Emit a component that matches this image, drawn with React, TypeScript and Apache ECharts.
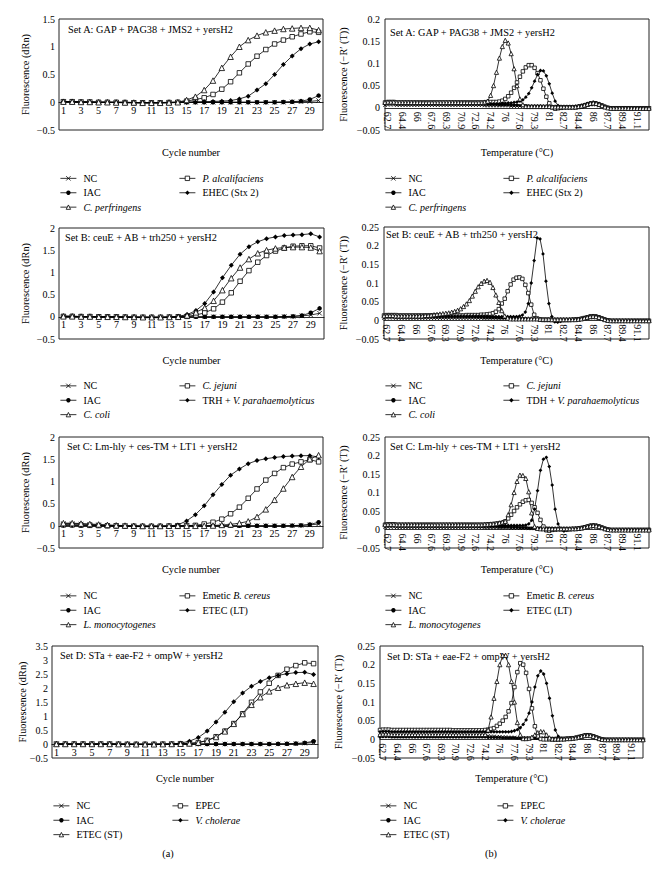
import React, { useEffect, useRef } from 'react';
import * as echarts from 'echarts';

// ---------- categories ----------
const CYCLES = ['1','2','3','4','5','6','7','8','9','10','11','12','13','14','15','16','17','18','19','20','21','22','23','24','25','26','27','28','29','30'];
const TEMPS = [
'62.4','62.7','63','63.4','63.7','64','64.4','64.7','65','65.4',
'65.7','66','66.3','66.7','67','67.3','67.6','68','68.3','68.6',
'69','69.3','69.6','70','70.3','70.6','70.9','71.3','71.6','71.9',
'72.3','72.6','72.9','73.3','73.6','73.9','74.2','74.6','74.9','75.3',
'75.6','76','76.3','76.6','77','77.3','77.6','77.9','78.3','78.6',
'79','79.3','79.6','80','80.3','80.6','81','81.3','81.7','82',
'82.3','82.7','83','83.3','83.7','84','84.4','84.7','85','85.4',
'85.7','86','86.4','86.7','87','87.4','87.7','88','88.4','88.7',
'89','89.4','89.7','90','90.4','90.7','91.1','91.4','91.7','92.1',
'92.4'];

// ---------- amplification curves (dRn) ----------
const A_NC    = [.01,.01,.005,.005,0,0,0,0,-.005,-.005,-.005,-.005,-.005,0,0,0,0,0,0,0,0,0,0,0,0,0,.005,.01,.015,.03];
const A_IAC   = [.01,.01,.005,0,0,0,-.005,-.01,-.01,-.015,-.015,-.015,-.01,-.005,0,0,0,0,0,0,0,0,0,0,0,.005,.01,.02,.05,.12];
const A_PALC  = [.01,.01,.005,.005,0,0,0,-.005,-.01,-.01,-.01,-.01,-.005,0,.02,.05,.08,.14,.235,.37,.53,.69,.83,.95,1.05,1.12,1.18,1.23,1.27,1.26];
const A_EHEC  = [.01,.01,.005,.005,0,0,0,0,-.005,-.005,-.005,-.005,0,0,0,.005,.01,.015,.02,.03,.06,.11,.22,.335,.5,.68,.835,.965,1.05,1.09];
const A_CPERF = [.01,.01,.005,.005,0,0,-.005,-.005,-.005,-.01,-.01,-.01,-.005,0,.04,.1,.22,.39,.62,.82,1.0,1.12,1.2,1.26,1.29,1.32,1.33,1.34,1.34,1.3];

const B_NC    = [.01,.01,.005,.005,0,0,0,-.005,-.005,-.005,-.01,-.01,-.005,0,0,0,0,0,0,0,0,0,0,0,0,.005,.01,.02,.04,.08];
const B_IAC   = [.01,.01,.005,0,0,0,-.005,-.01,-.015,-.02,-.02,-.02,-.015,-.01,0,0,0,0,0,0,0,0,0,0,0,.005,.01,.03,.09,.19];
const B_CJEJ  = [.01,.01,.005,.005,0,0,0,-.005,-.01,-.01,-.01,-.01,-.005,0,.01,.04,.09,.18,.33,.54,.8,1.04,1.23,1.38,1.48,1.55,1.59,1.6,1.6,1.55];
const B_TRH   = [.01,.01,.005,.005,0,0,0,-.005,-.005,-.01,-.01,-.01,-.005,.01,.05,.14,.3,.56,.88,1.16,1.41,1.58,1.69,1.76,1.8,1.83,1.84,1.85,1.87,1.8];
const B_CCOLI = [.01,.01,.005,.005,0,0,0,-.005,-.005,-.01,-.01,-.01,-.005,0,.03,.1,.2,.36,.6,.87,1.11,1.3,1.43,1.5,1.54,1.56,1.57,1.57,1.56,1.48];

const C_NC    = [.05,.05,.04,.03,.02,.01,.005,0,-.005,-.01,-.01,-.01,-.005,0,0,0,0,0,0,0,0,0,0,0,0,0,.005,.01,.02,.04];
const C_IAC   = [.01,.01,.005,0,0,0,-.005,-.01,-.015,-.02,-.02,-.02,-.015,-.01,0,0,0,0,0,0,0,0,0,0,0,0,.005,.01,.03,.08];
const C_BCER  = [.02,.02,.015,.01,.005,0,0,-.005,-.01,-.01,-.01,-.01,-.005,0,.005,.01,.04,.08,.15,.27,.42,.62,.83,1.03,1.18,1.31,1.39,1.44,1.49,1.44];
const C_ETLT  = [.02,.02,.015,.01,.005,0,0,-.005,-.005,-.01,-.01,-.01,-.005,.02,.11,.25,.45,.7,.93,1.14,1.28,1.4,1.47,1.51,1.54,1.56,1.57,1.58,1.58,1.55];
const C_LMONO = [.06,.06,.05,.04,.03,.02,.01,.005,0,-.005,-.005,-.005,0,0,0,0,0,.005,.02,.03,.06,.1,.2,.37,.585,.84,1.1,1.33,1.5,1.59];

const D_NC    = [0,0,0,0,0,0,0,0,0,-.005,-.005,-.005,0,0,0,0,0,0,0,0,0,0,0,0,0,0,.005,.01,.03,.05];
const D_IAC   = [0,0,0,0,0,0,0,-.005,-.01,-.01,-.015,-.015,-.01,-.005,0,0,0,0,0,0,0,0,0,0,0,.005,.01,.02,.04,.1];
const D_EPEC  = [0,0,0,0,0,0,0,-.005,-.01,-.01,-.01,-.01,-.005,0,.01,.02,.05,.13,.26,.46,.73,1.08,1.49,1.86,2.17,2.45,2.67,2.8,2.9,2.87];
const D_VCHOL = [0,0,0,0,0,0,0,-.005,-.005,-.01,-.01,-.01,-.005,0,.03,.1,.23,.46,.79,1.13,1.51,1.82,2.06,2.23,2.37,2.45,2.51,2.55,2.56,2.48];
const D_ETST  = [0,0,0,0,0,0,0,-.005,-.005,-.01,-.01,-.01,-.005,0,.01,.02,.05,.12,.25,.45,.72,1.07,1.4,1.67,1.88,2.01,2.1,2.15,2.19,2.15];

// ---------- melting curves (-R'(T)) ----------
const MA_NC = [
.006,.007,.007,.007,.006,.006,.006,.006,.006,.006,
.006,.006,.006,.006,.006,.006,.006,.006,.006,.006,
.006,.006,.006,.006,.006,.006,.006,.006,.006,.006,
.006,.006,.006,.006,.005,.005,.005,.005,.005,.005,
.005,.005,.005,.004,.004,.004,.004,.004,.004,.003,
.003,.003,.003,.003,.003,.003,.003,.002,.002,.002,
.002,.002,.002,.002,.002,.002,.002,.003,.004,.006,
.007,.008,.007,.005,.003,.001,.000,-.001,-.001,-.001,
-.001,-.001,-.001,-.001,-.001,-.001,-.001,-.001,-.001,-.001,
-.001];
const MA_IAC = [
.010,.011,.011,.011,.010,.010,.010,.010,.010,.010,
.010,.010,.010,.010,.010,.010,.010,.010,.010,.010,
.010,.010,.010,.010,.010,.010,.010,.010,.010,.010,
.010,.010,.009,.009,.009,.009,.008,.008,.008,.007,
.007,.007,.007,.006,.006,.006,.005,.005,.005,.004,
.004,.004,.004,.004,.003,.003,.003,.003,.003,.003,
.003,.003,.003,.003,.003,.004,.005,.006,.008,.010,
.012,.013,.012,.010,.007,.004,.001,.000,-.001,-.001,
-.001,-.001,-.001,-.001,-.001,-.001,-.001,-.001,-.001,-.001,
-.001];
const MA_PALC = [
.012,.013,.013,.013,.012,.012,.012,.012,.012,.012,
.012,.012,.012,.012,.012,.012,.012,.012,.012,.012,
.012,.012,.012,.012,.012,.012,.012,.012,.012,.012,
.012,.012,.012,.012,.012,.013,.013,.013,.013,.014,
.016,.020,.026,.034,.045,.057,.070,.082,.091,.096,
.096,.090,.078,.062,.043,.025,.010,.001,-.002,-.001,
.000,.001,.001,.001,.001,.001,.002,.003,.005,.007,
.009,.010,.009,.007,.005,.002,.000,-.001,-.001,-.001,
-.001,-.001,-.001,-.001,-.001,-.001,-.001,-.001,-.001,-.001,
-.001];
const MA_EHEC = [
.009,.010,.010,.010,.009,.009,.009,.009,.009,.009,
.009,.009,.009,.009,.009,.009,.009,.009,.009,.009,
.009,.009,.009,.009,.009,.009,.009,.009,.009,.009,
.009,.009,.009,.009,.009,.009,.009,.009,.009,.009,
.010,.010,.011,.011,.012,.013,.015,.018,.024,.032,
.045,.060,.075,.084,.083,.072,.054,.033,.015,.005,
.002,.002,.002,.002,.002,.002,.003,.004,.006,.008,
.010,.011,.010,.008,.005,.002,.000,-.001,-.001,-.001,
-.001,-.001,-.001,-.001,-.001,-.001,-.001,-.001,-.001,-.001,
-.001];
const MA_CPERF = [
.012,.013,.013,.013,.012,.012,.012,.012,.012,.012,
.012,.012,.012,.012,.012,.012,.012,.012,.012,.012,
.012,.012,.012,.012,.012,.012,.012,.012,.012,.012,
.012,.012,.012,.012,.013,.015,.028,.050,.080,.112,
.138,.152,.146,.122,.088,.050,.020,.007,.003,.003,
.003,.003,.003,.003,.003,.003,.003,.002,.002,.002,
.002,.002,.002,.002,.002,.002,.003,.004,.006,.008,
.010,.011,.010,.008,.005,.002,.000,-.001,-.001,-.001,
-.001,-.001,-.001,-.001,-.001,-.001,-.001,-.001,-.001,-.001,
-.001];

const MB_NC = [
.006,.007,.007,.007,.006,.006,.006,.006,.006,.006,
.006,.006,.006,.006,.006,.006,.006,.006,.006,.006,
.006,.006,.006,.006,.006,.006,.006,.006,.006,.006,
.006,.006,.006,.006,.005,.005,.005,.005,.005,.005,
.005,.005,.005,.004,.004,.004,.004,.004,.004,.003,
.003,.003,.003,.003,.003,.003,.003,.002,.002,.002,
.002,.002,.002,.002,.002,.002,.002,.003,.004,.006,
.007,.008,.007,.005,.003,.001,.000,-.001,-.001,-.001,
-.001,-.001,-.001,-.001,-.001,-.001,-.001,-.001,-.001,-.001,
-.001];
const MB_IAC = [
.010,.011,.011,.011,.010,.010,.010,.010,.010,.010,
.010,.010,.010,.010,.010,.010,.010,.010,.010,.010,
.010,.010,.010,.010,.010,.010,.010,.010,.010,.010,
.010,.010,.009,.009,.009,.009,.008,.008,.008,.007,
.007,.007,.007,.006,.006,.006,.005,.005,.005,.004,
.004,.004,.004,.004,.003,.003,.003,.003,.003,.003,
.003,.003,.003,.003,.003,.004,.005,.006,.008,.010,
.012,.013,.012,.010,.007,.004,.001,.000,-.001,-.001,
-.001,-.001,-.001,-.001,-.001,-.001,-.001,-.001,-.001,-.001,
-.001];
const MB_CJEJ = [
.013,.014,.014,.014,.014,.013,.013,.013,.013,.013,
.013,.013,.013,.013,.013,.013,.013,.013,.013,.013,
.013,.013,.013,.013,.013,.013,.013,.013,.014,.014,
.014,.014,.014,.015,.015,.016,.017,.019,.023,.030,
.045,.058,.078,.096,.109,.114,.115,.111,.095,.073,
.042,.015,.005,.002,.001,.001,.001,.001,.001,.001,
.001,.001,.001,.001,.002,.002,.003,.004,.006,.008,
.010,.011,.010,.008,.005,.002,.000,-.001,-.001,-.001,
-.001,-.001,-.001,-.001,-.001,-.001,-.001,-.001,-.001,-.001,
-.001];
const MB_TDH = [
.011,.012,.012,.012,.011,.011,.011,.011,.011,.011,
.011,.011,.011,.011,.011,.011,.011,.011,.011,.011,
.011,.011,.011,.011,.011,.011,.011,.011,.011,.011,
.011,.011,.011,.011,.011,.011,.010,.010,.010,.010,
.010,.010,.010,.010,.010,.010,.011,.014,.022,.045,
.100,.160,.221,.218,.178,.105,.045,.010,-.004,-.005,
-.003,-.001,.000,.001,.001,.002,.003,.004,.006,.008,
.010,.011,.010,.008,.005,.002,.000,-.001,-.001,-.001,
-.001,-.001,-.001,-.001,-.001,-.001,-.001,-.001,-.001,-.001,
-.001];
const MB_CCOLI = [
.012,.013,.013,.013,.012,.012,.012,.012,.012,.012,
.012,.012,.012,.012,.013,.013,.014,.015,.016,.017,
.018,.019,.020,.022,.024,.027,.031,.037,.044,.053,
.065,.078,.090,.099,.105,.107,.102,.088,.068,.048,
.026,.012,.006,.004,.004,.004,.004,.004,.004,.004,
.004,.004,.004,.003,.003,.003,.003,.002,.002,.002,
.002,.002,.002,.002,.002,.002,.003,.004,.006,.008,
.010,.011,.010,.008,.005,.002,.000,-.001,-.001,-.001,
-.001,-.001,-.001,-.001,-.001,-.001,-.001,-.001,-.001,-.001,
-.001];

const MC_NC = [
.006,.007,.007,.007,.006,.006,.006,.006,.006,.006,
.006,.006,.006,.006,.006,.006,.006,.006,.006,.006,
.006,.006,.006,.006,.006,.006,.006,.006,.006,.006,
.006,.006,.006,.006,.005,.005,.005,.005,.005,.005,
.005,.005,.005,.004,.004,.004,.004,.004,.004,.003,
.003,.003,.003,.003,.003,.003,.003,.002,.002,.002,
.002,.002,.002,.002,.002,.002,.002,.003,.004,.006,
.007,.008,.007,.005,.003,.001,.000,-.001,-.001,-.001,
-.001,-.001,-.001,-.001,-.001,-.001,-.001,-.001,-.001,-.001,
-.001];
const MC_IAC = [
.010,.011,.011,.011,.010,.010,.010,.010,.010,.010,
.010,.010,.010,.010,.010,.010,.010,.010,.010,.010,
.010,.010,.010,.010,.010,.010,.010,.010,.010,.010,
.010,.010,.009,.009,.009,.009,.008,.008,.008,.007,
.007,.007,.007,.006,.006,.006,.005,.005,.005,.004,
.004,.004,.004,.004,.003,.003,.003,.003,.003,.003,
.003,.003,.003,.003,.003,.004,.005,.006,.008,.010,
.012,.013,.012,.010,.007,.004,.001,.000,-.001,-.001,
-.001,-.001,-.001,-.001,-.001,-.001,-.001,-.001,-.001,-.001,
-.001];
const MC_BCER = [
.013,.014,.014,.014,.013,.013,.013,.013,.013,.013,
.013,.013,.013,.013,.013,.013,.013,.013,.013,.013,
.013,.013,.013,.013,.013,.013,.013,.013,.013,.013,
.013,.013,.013,.013,.013,.014,.014,.015,.016,.017,
.018,.022,.030,.040,.050,.060,.068,.075,.079,.080,
.072,.060,.045,.026,.008,-.002,-.003,-.001,.000,.001,
.001,.001,.001,.001,.002,.002,.003,.004,.006,.008,
.010,.011,.010,.008,.005,.002,.000,-.001,-.001,-.001,
-.001,-.001,-.001,-.001,-.001,-.001,-.001,-.001,-.001,-.001,
-.001];
const MC_LMONO = [
.013,.014,.014,.014,.013,.013,.013,.013,.013,.013,
.013,.013,.013,.013,.013,.013,.013,.013,.013,.013,
.013,.013,.013,.013,.013,.013,.013,.013,.013,.013,
.013,.013,.013,.013,.014,.014,.015,.015,.016,.018,
.020,.022,.040,.067,.100,.130,.147,.146,.138,.102,
.045,.008,.003,.002,.002,.002,.002,.002,.002,.002,
.002,.002,.002,.002,.002,.002,.003,.004,.006,.008,
.010,.011,.010,.008,.005,.002,.000,-.001,-.001,-.001,
-.001,-.001,-.001,-.001,-.001,-.001,-.001,-.001,-.001,-.001,
-.001];
const MC_ETLT = [
.011,.012,.012,.012,.011,.011,.011,.011,.011,.011,
.011,.011,.011,.011,.011,.011,.011,.011,.011,.011,
.011,.011,.011,.011,.011,.011,.011,.011,.011,.011,
.011,.011,.011,.011,.011,.011,.011,.011,.011,.011,
.011,.011,.011,.011,.011,.011,.011,.011,.012,.015,
.025,.055,.105,.160,.190,.195,.170,.120,.055,.015,
.000,-.004,-.002,.000,.001,.002,.003,.004,.006,.008,
.010,.011,.010,.008,.005,.002,.000,-.001,-.001,-.001,
-.001,-.001,-.001,-.001,-.001,-.001,-.001,-.001,-.001,-.001,
-.001];

const MD_NC = [
.010,.011,.011,.011,.010,.010,.010,.010,.010,.010,
.010,.010,.010,.010,.010,.010,.010,.010,.010,.010,
.010,.010,.010,.010,.010,.010,.010,.010,.010,.010,
.010,.010,.010,.010,.010,.010,.009,.009,.008,.008,
.007,.007,.006,.006,.005,.005,.005,.004,.004,.004,
.004,.003,.003,.003,.003,.003,.003,.002,.002,.002,
.002,.002,.002,.002,.002,.002,.003,.004,.006,.008,
.010,.011,.010,.008,.005,.002,.000,-.001,-.001,-.001,
-.001,-.001,-.001,-.001,-.001,-.001,-.001,-.001,-.001,-.001,
-.001];
const MD_IAC = [
.006,.007,.007,.007,.006,.006,.006,.006,.006,.006,
.006,.006,.006,.006,.006,.006,.006,.006,.006,.006,
.006,.006,.006,.006,.006,.006,.006,.006,.006,.006,
.006,.006,.006,.006,.006,.006,.006,.005,.005,.005,
.005,.005,.004,.004,.004,.004,.004,.003,.003,.003,
.003,.003,.003,.003,.003,.003,.003,.003,.003,.003,
.003,.003,.003,.003,.003,.004,.005,.006,.008,.010,
.012,.013,.012,.010,.007,.004,.001,.000,-.001,-.001,
-.001,-.001,-.001,-.001,-.001,-.001,-.001,-.001,-.001,-.001,
-.001];
const MD_EPEC = [
.025,.026,.026,.026,.025,.025,.025,.025,.025,.025,
.025,.025,.025,.025,.025,.025,.025,.025,.025,.025,
.025,.025,.025,.025,.025,.024,.024,.024,.024,.024,
.024,.024,.024,.024,.024,.024,.025,.026,.028,.030,
.036,.042,.050,.060,.075,.097,.140,.180,.204,.200,
.178,.135,.083,.035,.008,.001,.000,.000,.000,.000,
.000,.000,.001,.001,.002,.002,.003,.004,.006,.008,
.010,.011,.010,.008,.005,.002,.000,-.001,-.001,-.001,
-.001,-.001,-.001,-.001,-.001,-.001,-.001,-.001,-.001,-.001,
-.001];
const MD_VCHOL = [
.020,.021,.021,.021,.020,.020,.020,.020,.020,.020,
.020,.020,.020,.020,.020,.020,.020,.020,.020,.020,
.020,.020,.020,.020,.020,.020,.020,.020,.020,.020,
.020,.020,.020,.020,.020,.020,.020,.020,.020,.020,
.020,.020,.020,.020,.020,.021,.023,.026,.031,.040,
.052,.070,.100,.140,.170,.183,.175,.150,.110,.063,
.025,.008,.002,.001,.001,.002,.003,.004,.006,.008,
.010,.011,.010,.008,.005,.002,.000,-.001,-.001,-.001,
-.001,-.001,-.001,-.001,-.001,-.001,-.001,-.001,-.001,-.001,
-.001];
const MD_ETST = [
.013,.014,.014,.014,.013,.013,.013,.013,.013,.013,
.013,.013,.013,.013,.013,.013,.013,.013,.013,.013,
.013,.013,.013,.013,.013,.013,.013,.013,.013,.013,
.013,.013,.013,.013,.013,.013,.013,.025,.060,.110,
.155,.200,.225,.225,.200,.155,.100,.045,.012,.002,
.002,.003,.006,.012,.018,.021,.020,.012,.004,.001,
.001,.001,.001,.001,.002,.002,.003,.004,.006,.008,
.010,.011,.010,.008,.005,.002,.000,-.001,-.001,-.001,
-.001,-.001,-.001,-.001,-.001,-.001,-.001,-.001,-.001,-.001,
-.001];

// ---------- texts ----------
const SET_TITLES = [
  'Set A: GAP + PAG38 + JMS2 + yersH2',
  'Set B: ceuE + AB + trh250 + yersH2',
  'Set C: Lm-hly + ces-TM + LT1 + yersH2',
  'Set D: STa + eae-F2 + ompW + yersH2',
];
const ITALIC: Record<string, [string, string]> = {
  'P. alcalifaciens': ['', 'P. alcalifaciens'],
  'C. perfringens': ['', 'C. perfringens'],
  'C. jejuni': ['', 'C. jejuni'],
  'C. coli': ['', 'C. coli'],
  'TRH + V. parahaemolyticus': ['TRH + ', 'V. parahaemolyticus'],
  'TDH + V. parahaemolyticus': ['TDH + ', 'V. parahaemolyticus'],
  'L. monocytogenes': ['', 'L. monocytogenes'],
  'Emetic B. cereus': ['Emetic ', 'B. cereus'],
  'V. cholerae': ['', 'V. cholerae'],
};

type Mark = 'cross' | 'dot' | 'square' | 'diamond' | 'tri';
type S = { name: string; data: number[]; mark: Mark };

const PANEL_SERIES: S[][] = [
  [ { name: 'NC', data: A_NC, mark: 'cross' }, { name: 'IAC', data: A_IAC, mark: 'dot' },
    { name: 'P. alcalifaciens', data: A_PALC, mark: 'square' }, { name: 'EHEC (Stx 2)', data: A_EHEC, mark: 'diamond' },
    { name: 'C. perfringens', data: A_CPERF, mark: 'tri' } ],
  [ { name: 'NC', data: MA_NC, mark: 'cross' }, { name: 'IAC', data: MA_IAC, mark: 'dot' },
    { name: 'P. alcalifaciens', data: MA_PALC, mark: 'square' }, { name: 'EHEC (Stx 2)', data: MA_EHEC, mark: 'diamond' },
    { name: 'C. perfringens', data: MA_CPERF, mark: 'tri' } ],
  [ { name: 'NC', data: B_NC, mark: 'cross' }, { name: 'IAC', data: B_IAC, mark: 'dot' },
    { name: 'C. jejuni', data: B_CJEJ, mark: 'square' }, { name: 'TRH + V. parahaemolyticus', data: B_TRH, mark: 'diamond' },
    { name: 'C. coli', data: B_CCOLI, mark: 'tri' } ],
  [ { name: 'NC', data: MB_NC, mark: 'cross' }, { name: 'IAC', data: MB_IAC, mark: 'dot' },
    { name: 'C. jejuni', data: MB_CJEJ, mark: 'square' }, { name: 'TDH + V. parahaemolyticus', data: MB_TDH, mark: 'diamond' },
    { name: 'C. coli', data: MB_CCOLI, mark: 'tri' } ],
  [ { name: 'NC', data: C_NC, mark: 'cross' }, { name: 'IAC', data: C_IAC, mark: 'dot' },
    { name: 'Emetic B. cereus', data: C_BCER, mark: 'square' }, { name: 'ETEC (LT)', data: C_ETLT, mark: 'diamond' },
    { name: 'L. monocytogenes', data: C_LMONO, mark: 'tri' } ],
  [ { name: 'NC', data: MC_NC, mark: 'cross' }, { name: 'IAC', data: MC_IAC, mark: 'dot' },
    { name: 'Emetic B. cereus', data: MC_BCER, mark: 'square' }, { name: 'ETEC (LT)', data: MC_ETLT, mark: 'diamond' },
    { name: 'L. monocytogenes', data: MC_LMONO, mark: 'tri' } ],
  [ { name: 'NC', data: D_NC, mark: 'cross' }, { name: 'IAC', data: D_IAC, mark: 'dot' },
    { name: 'EPEC', data: D_EPEC, mark: 'square' }, { name: 'V. cholerae', data: D_VCHOL, mark: 'diamond' },
    { name: 'ETEC (ST)', data: D_ETST, mark: 'tri' } ],
  [ { name: 'NC', data: MD_NC, mark: 'cross' }, { name: 'IAC', data: MD_IAC, mark: 'dot' },
    { name: 'EPEC', data: MD_EPEC, mark: 'square' }, { name: 'V. cholerae', data: MD_VCHOL, mark: 'diamond' },
    { name: 'ETEC (ST)', data: MD_ETST, mark: 'tri' } ],
];

// ---------- layout (pixels) ----------
const LAYOUT = [
  { kind: 'amp',  left: 59,  top: 19,  width: 264, height: 111, yMin: -0.5,  yMax: 1.5,  yInt: 0.5,  setX: 68,  setY: 29,  yTitleX: 25,  xTitleY: 152, legX: [60, 179],  legY: 171.5 },
  { kind: 'melt', left: 385, top: 19,  width: 264, height: 111, yMin: -0.05, yMax: 0.2,  yInt: 0.05, setX: 390, setY: 32,  yTitleX: 343, xTitleY: 152, legX: [385, 503], legY: 171.5 },
  { kind: 'amp',  left: 59,  top: 228, width: 265, height: 111, yMin: -0.5,  yMax: 2,    yInt: 0.5,  setX: 65,  setY: 237, yTitleX: 25,  xTitleY: 360, legX: [60, 179],  legY: 379 },
  { kind: 'melt', left: 384, top: 227, width: 265, height: 112, yMin: -0.05, yMax: 0.25, yInt: 0.05, setX: 386, setY: 234, yTitleX: 343, xTitleY: 360, legX: [385, 503], legY: 379 },
  { kind: 'amp',  left: 59,  top: 437, width: 264, height: 111, yMin: -0.5,  yMax: 2,    yInt: 0.5,  setX: 67,  setY: 446, yTitleX: 25,  xTitleY: 569, legX: [60, 179],  legY: 589 },
  { kind: 'melt', left: 385, top: 437, width: 264, height: 111, yMin: -0.05, yMax: 0.25, yInt: 0.05, setX: 390, setY: 446, yTitleX: 343, xTitleY: 569, legX: [385, 503], legY: 589 },
  { kind: 'amp',  left: 52,  top: 646, width: 266, height: 112, yMin: -0.5,  yMax: 3.5,  yInt: 0.5,  setX: 60,  setY: 655, yTitleX: 22,  xTitleY: 778, legX: [53, 172],  legY: 799 },
  { kind: 'melt', left: 380, top: 646, width: 263, height: 112, yMin: -0.05, yMax: 0.25, yInt: 0.05, setX: 387, setY: 656, yTitleX: 338, xTitleY: 778, legX: [380, 497], legY: 799 },
];

const FONT = '"Liberation Serif", "Times New Roman", Times, serif';

const MARK_STYLE: Record<Mark, { symbol: string; color: string; borderWidth: number; amp: number; melt: number }> = {
  cross:   { symbol: 'path://M0,0L10,10M10,0L0,10', color: '#000', borderWidth: 0.8, amp: 4.5, melt: 3.5 },
  dot:     { symbol: 'circle',   color: '#000', borderWidth: 0,   amp: 4.5, melt: 3 },
  square:  { symbol: 'rect',     color: '#fff', borderWidth: 0.8, amp: 4.5, melt: 3.5 },
  diamond: { symbol: 'diamond',  color: '#000', borderWidth: 0,   amp: 5,   melt: 3.8 },
  tri:     { symbol: 'triangle', color: '#fff', borderWidth: 0.8, amp: 5.5, melt: 4.2 },
};

function legendText(name: string): string {
  const p = ITALIC[name];
  if (!p) return `{n|${name}}`;
  return (p[0] ? `{n|${p[0]}}` : '') + `{i|${p[1]}}`;
}

function yFmt(v: number): string {
  const r = Math.round(v * 1000) / 1000;
  return r < 0 ? '\u2212' + String(-r) : String(r);
}

function buildOption() {
  const grid: any[] = [];
  const xAxis: any[] = [];
  const yAxis: any[] = [];
  const series: any[] = [];
  const legend: any[] = [];
  const graphic: any[] = [];
  const txt = (x: number, y: number, text: string, extra: any = {}) => ({
    type: 'text', x, y, silent: true, ...extra,
    style: { text, fill: '#000', font: `10.3px ${FONT}`, align: 'left', verticalAlign: 'middle', ...(extra.style || {}) },
  });

  LAYOUT.forEach((L, i) => {
    const amp = L.kind === 'amp';
    const zeroOffset = -((0 - L.yMin) / (L.yMax - L.yMin)) * L.height;
    grid.push({ left: L.left, top: L.top, width: L.width, height: L.height, show: true, borderColor: '#222', borderWidth: 1, backgroundColor: 'transparent', containLabel: false, outerBoundsMode: 'none' });
    xAxis.push({
      type: 'category', gridIndex: i, data: amp ? CYCLES : TEMPS, boundaryGap: amp,
      position: 'bottom', offset: zeroOffset,
      axisLine: { show: true, onZero: false, lineStyle: { color: '#000', width: 0.8 } },
      axisTick: { show: false }, splitLine: { show: false },
      axisLabel: amp
        ? { interval: 1, fontSize: 10, color: '#000', fontFamily: FONT, margin: 3 }
        : { interval: (idx: number) => idx % 5 === 1, rotate: -90, fontSize: 10, color: '#000', fontFamily: FONT, margin: 4 },
    });
    yAxis.push({
      type: 'value', gridIndex: i, min: L.yMin, max: L.yMax, interval: L.yInt,
      axisLine: { show: false }, axisTick: { show: false }, splitLine: { show: false },
      axisLabel: { formatter: yFmt, fontSize: 10, color: '#000', fontFamily: FONT, margin: amp ? 4 : 5 },
    });
    const ser = PANEL_SERIES[i];
    ser.forEach((s) => {
      const m = MARK_STYLE[s.mark];
      series.push({
        type: 'line', name: s.name, xAxisIndex: i, yAxisIndex: i, data: s.data,
        symbol: m.symbol, symbolSize: amp ? m.amp : m.melt, showSymbol: true, showAllSymbol: true,
        lineStyle: { color: '#000', width: 0.8 },
        itemStyle: { color: m.color, borderColor: '#000', borderWidth: m.borderWidth },
        silent: true, emphasis: { disabled: true }, animation: false,
      });
    });
    const cols = [[ser[0], ser[1], ser[4]], [ser[2], ser[3]]];
    cols.forEach((items, c) => {
      legend.push({
        orient: 'vertical', left: L.legX[c], top: L.legY, padding: 0, itemGap: 0.7,
        itemWidth: 16, itemHeight: 5.5, selectedMode: false,
        data: items.map((s) => {
          const m = MARK_STYLE[s.mark];
          return { name: s.name, itemStyle: { color: m.color, borderColor: '#000', borderWidth: m.borderWidth } };
        }),
        lineStyle: { color: '#000', width: 0.8 },
        formatter: legendText,
        textStyle: {
          padding: [0, 0, 0, 2], lineHeight: 13.7, fontSize: 10, color: '#000', fontFamily: FONT,
          rich: {
            n: { fontSize: 10, fontFamily: FONT, color: '#000', lineHeight: 13.7 },
            i: { fontSize: 10, fontFamily: FONT, color: '#000', fontStyle: 'italic', lineHeight: 13.7 },
          },
        },
      });
    });
    graphic.push(txt(L.setX, L.setY, SET_TITLES[Math.floor(i / 2)]));
    graphic.push(txt(L.yTitleX, L.top + L.height / 2, amp ? 'Fluorescence (dRn)' : 'Fluorescence (\u2212R\u2032 (T))',
      { rotation: Math.PI / 2, style: { align: 'center' } }));
    graphic.push(txt(L.left + L.width / 2, L.xTitleY, amp ? 'Cycle number' : 'Temperature (\u00B0C)', { style: { align: 'center' } }));
  });
  graphic.push(txt(168, 853, '(a)', { style: { align: 'center' } }));
  graphic.push(txt(491, 853, '(b)', { style: { align: 'center' } }));

  return { animation: false, backgroundColor: '#fff', grid, xAxis, yAxis, series, legend, graphic, tooltip: { show: false } };
}

export default function App() {
  const ref = useRef<HTMLDivElement>(null);
  useEffect(() => {
    if (!ref.current) return;
    const chart = echarts.init(ref.current, undefined, { renderer: 'svg' });
    chart.setOption(buildOption() as any);
    return () => chart.dispose();
  }, []);
  return <div ref={ref} style={{ position: 'absolute', left: 0, top: 0, width: 666, height: 873, background: '#fff' }} />;
}
